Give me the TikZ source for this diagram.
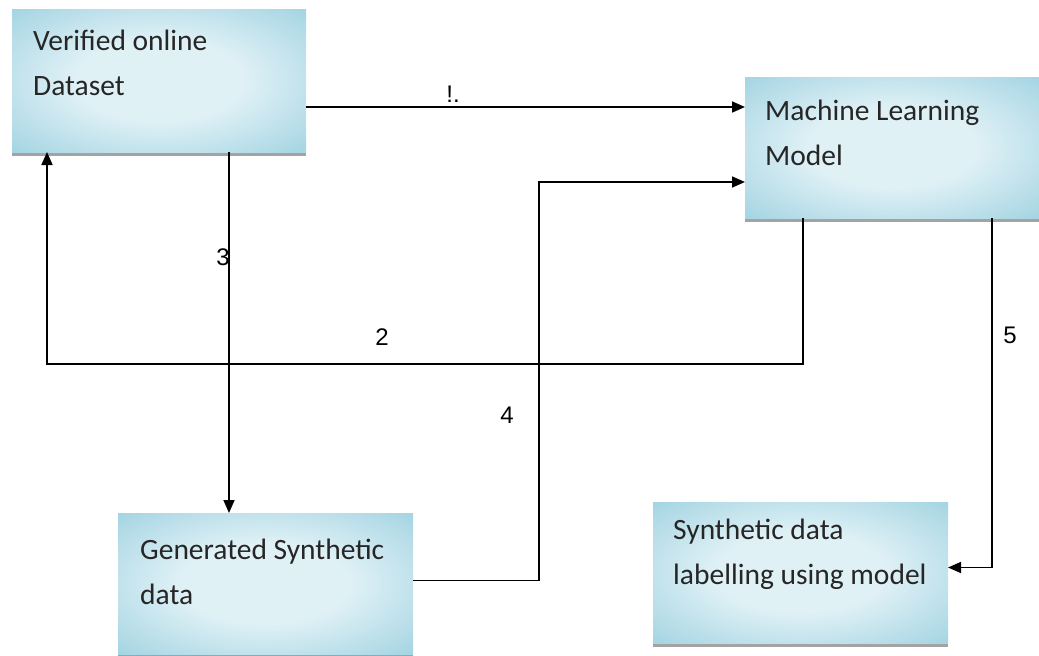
\documentclass[tikz,border=0pt]{standalone}
\usepackage{fontspec}
\setmainfont{Carlito}
\newfontfamily\numfont{Liberation Sans}
\usetikzlibrary{positioning,arrows.meta,calc,shadows}

\definecolor{boxedge}{RGB}{118,190,211}
\definecolor{boxmid}{RGB}{224,241,246}
\pgfdeclareradialshading{boxshade}{\pgfpoint{0bp}{0bp}}{%
  color(0bp)=(boxmid); color(14bp)=(boxmid); color(36bp)=(boxedge!58!boxmid);
  color(50bp)=(boxedge!90!boxmid); color(70bp)=(boxedge)}

\begin{document}
\begin{tikzpicture}[x=1pt,y=-1pt,
  box/.style={inner sep=0,outer sep=0,shading=boxshade,
    drop shadow={shadow xshift=0pt,shadow yshift=-4pt,fill=black!45,opacity=.8}},
  txt/.style={anchor=north west,inner sep=0,align=left,font=\fontsize{29.5}{45}\selectfont,text=black!85},
  arr/.style={line width=1.7pt,-{Triangle[length=13pt,width=11pt]}},
  num/.style={font=\numfont\fontsize{24}{24}\selectfont}]
\useasboundingbox (0,0) rectangle (1039,656);
% boxes
\node[box,minimum width=294,minimum height=143] (ds) at (159,80.5) {};
\node[box,minimum width=294,minimum height=141] (ml) at (892,147.5) {};
\node[box,minimum width=295,minimum height=141] (lab) at (800.5,572.5) {};
\node[box,minimum width=295,minimum height=141] (gen) at (265.5,583.5) {};
\node[txt] (dst) at ($(ds.north west)+(21,21)$) {Verified online\\Dataset};
\node[txt] (mlt) at ($(ml.north west)+(20,23)$) {Machine Learning\\Model};
\node[txt] (labt) at ($(lab.north west)+(20,17)$) {Synthetic data\\labelling using model};
\node[txt] (gent) at ($(gen.north west)+(22,26)$) {Generated Synthetic\\data};
% connectors
\draw[arr] ($(ds.north east)+(0,98)$) -- ($(ml.north west)+(0,30)$);
\coordinate (c2) at (47,364);
\draw[arr] ($(ml.south west)+(58,0)$) |- (c2) -- (c2 |- ds.south);
\draw[arr] ($(ds.south west)+(217,0)$) coordinate (s3) -- (s3 |- gen.north);
\coordinate (c4) at (539,182);
\draw[arr] ([yshift=3pt]gen.east) -| (c4) -- (c4 -| ml.west);
\draw[arr] ($(ml.south west)+(247,0)$) |- ([yshift=5pt]lab.east);
% numbers
\node[num,anchor=south] (n1) at (453,106) {!.};
\node[num] (n2) at (382,337) {2};
\node[num] (n3) at (223,257) {3};
\node[num] (n4) at (507,415) {4};
\node[num] (n5) at (1010,335) {5};
\end{tikzpicture}
\end{document}
